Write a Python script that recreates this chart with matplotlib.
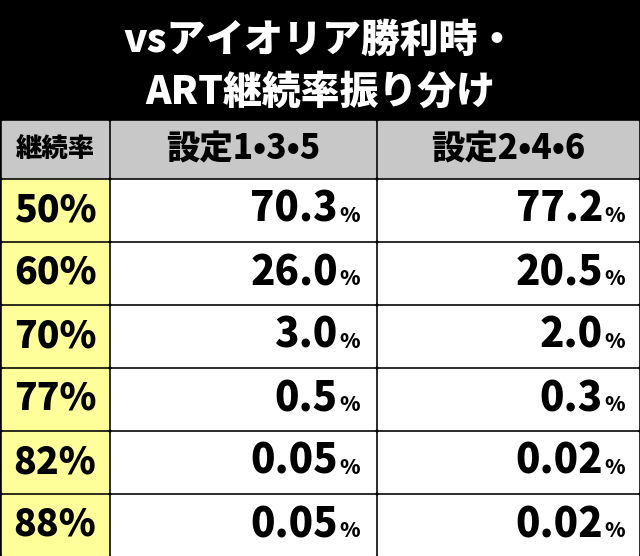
import matplotlib
matplotlib.use("Agg")
import matplotlib.pyplot as plt
from matplotlib.patches import Rectangle

plt.rcParams['font.family'] = ['Noto Sans CJK JP', 'DejaVu Sans']
W = 'black'

title_lines = ["vsアイオリア勝利時・", "ART継続率振り分け"]
headers = ["継続率", "設定1•3•5", "設定2•4•6"]
rates = ["50%", "60%", "70%", "77%", "82%", "88%"]
s135 = ["70.3", "26.0", "3.0", "0.5", "0.05", "0.05"]
s246 = ["77.2", "20.5", "2.0", "0.3", "0.02", "0.02"]

fig = plt.figure(figsize=(6.4, 5.56), dpi=100)
ax = fig.add_axes([0, 0, 1, 1])
ax.set_xlim(0, 640); ax.set_ylim(556, 0); ax.axis('off')

ax.add_patch(Rectangle((0, 0), 640, 556, color='black'))
ax.text(320, 40, title_lines[0], color='white', fontsize=28, fontweight=W, ha='center', va='center')
ax.text(320, 92, title_lines[1], color='white', fontsize=28, fontweight=W, ha='center', va='center')

cols = [(2, 108), (111, 375), (378, 638)]
hy0, hy1 = 121, 177
for (x0, x1), h in zip(cols, headers):
    ax.add_patch(Rectangle((x0, hy0), x1 - x0, hy1 - hy0, color='#c8c8c8'))
    ax.text((x0 + x1) / 2, (hy0 + hy1) / 2, h, fontsize=24 if h != headers[0] else 19,
            fontweight=W, ha='center', va='center', color='black')

rh = 63
for i in range(len(rates)):
    y0 = 180 + i * rh
    y1 = y0 + rh - 3
    yc = (y0 + y1) / 2
    ax.add_patch(Rectangle((cols[0][0], y0), cols[0][1] - cols[0][0], y1 - y0, color='#ffff99'))
    ax.add_patch(Rectangle((cols[1][0], y0), cols[1][1] - cols[1][0], y1 - y0, color='white'))
    ax.add_patch(Rectangle((cols[2][0], y0), cols[2][1] - cols[2][0], y1 - y0, color='white'))
    ax.text(55, yc, rates[i], fontsize=27, fontweight=W, ha='center', va='center')
    for vals, xr in ((s135, 338), (s246, 603)):
        ax.text(xr, yc, vals[i], fontsize=29, fontweight=W, ha='right', va='center')
        ax.text(xr + 1, yc + 6, "%", fontsize=15, fontweight=W, ha='left', va='center')

fig.savefig("out.png", dpi=100)
